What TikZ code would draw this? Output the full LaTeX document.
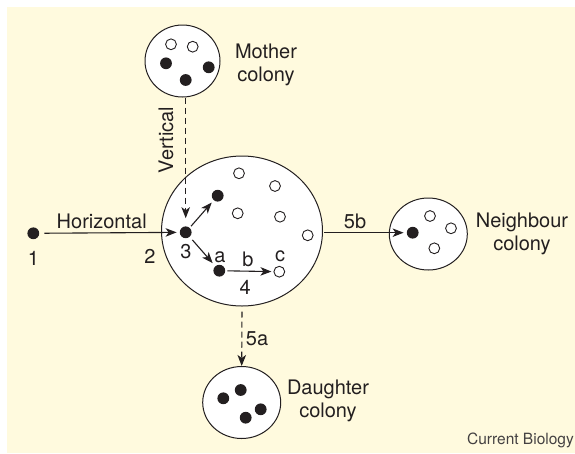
\documentclass[tikz,border=0pt]{standalone}
\usepackage{fontspec}
\setmainfont{TeX Gyre Heros}
\usepackage{tikz}
\usetikzlibrary{positioning,arrows.meta,shapes.geometric,calc}
\usepackage{xcolor}
\definecolor{cream}{RGB}{255,250,222}
\definecolor{ink}{RGB}{35,31,32}

\begin{document}
\begin{tikzpicture}[x=1pt, y=-1pt, >={Stealth[length=11pt,width=8.5pt,inset=3pt]},
    colony/.style={ellipse, draw=ink, line width=1pt, fill=white, inner sep=0pt},
    fulldot/.style={circle, fill=ink, inner sep=0pt, minimum size=11.8pt},
    opendot/.style={circle, draw=ink, line width=0.9pt, fill=white, inner sep=0pt, minimum size=10.8pt},
    flow/.style={->, draw=ink, line width=1.1pt},
    lbl/.style={inner sep=0pt, text=ink, font=\fontsize{20}{23}\selectfont, align=center}]

    % --- BACKGROUND ---
    \useasboundingbox (0,0) rectangle (575,453);
    \fill[white] (0,0) rectangle (575,453);
    \fill[cream] (7,7) rectangle (575,453);

    % --- COLONIES ---
    \node[colony, minimum width=161pt, minimum height=150pt] (main) at (242,231) {};
    \node[colony, minimum width=75pt, minimum height=72pt] (mother) at (182.5,61) {};
    \node[colony, minimum width=78pt, minimum height=72pt] (neighbour) at (428.3,234) {};
    \node[colony, minimum width=78pt, minimum height=72pt] (daughter) at (241.7,402.5) {};

    % Mother colony
    \foreach \x/\y [count=\i] in {171/44.3, 192.7/46.7}
        \node[opendot] (mo\i) at (\x,\y) {};
    \foreach \x/\y [count=\i] in {166/63.3, 208.7/67.3, 185.7/80}
        \node[fulldot] (mf\i) at (\x,\y) {};

    % Main colony
    \node[fulldot] (d3) at (185.7,232.3) {};
    \node[fulldot] (dup) at (217.7,195.7) {};
    \node[fulldot] (da) at (219.3,270.7) {};
    \node[opendot] (dc) at (279.3,271.7) {};
    \foreach \x/\y [count=\i] in {239/173.3, 275/186, 237.7/213.3, 280/216.7, 307.7/235.3}
        \node[opendot] (co\i) at (\x,\y) {};

    % Neighbour colony
    \node[fulldot] (dn) at (412.7,232.7) {};
    \foreach \x/\y [count=\i] in {430/216, 451/228.3, 434.3/248.3}
        \node[opendot] (no\i) at (\x,\y) {};

    % Daughter colony
    \foreach \x/\y [count=\i] in {240.7/390, 223.3/398.3, 260.7/409.3, 245.7/417.7}
        \node[fulldot] (df\i) at (\x,\y) {};

    % Founding cell
    \node[fulldot] (d1) at (33.3,233.3) {};

    % --- TRANSMISSION ---
    \draw[flow, shorten <=5pt, shorten >=3pt] (d1) -- (d3);
    \draw[flow, dash pattern=on 6pt off 4pt, shorten >=8pt] (d3 |- mother.south) -- (d3);
    \draw[flow, shorten <=2pt, shorten >=3pt] (d3) -- (dup);
    \draw[flow, shorten <=4pt, shorten >=4pt] (d3) -- (da);
    \draw[flow, shorten <=2pt, shorten >=2pt] (da) -- (dc);
    \draw[flow, shorten <=1pt, shorten >=3pt] (main.east |- dn) -- (dn);
    \draw[flow, dash pattern=on 6pt off 4pt, shorten <=5pt] (main.south) -- (daughter.north);

    % --- LABELS ---
    \node[lbl] (tHor) at (101.7,221.7) {Horizontal};
    \node[lbl, rotate=90] (tVer) at (166,140) {Vertical};
    \node[lbl] (t1) at (33.5,258) {1};
    \node[lbl] (t2) at (150,256) {2};
    \node[lbl] (t3) at (186,252) {3};
    \node[lbl] (ta) at (220,257) {a};
    \node[lbl] (tb) at (248,259) {b};
    \node[lbl] (tc) at (280,256) {c};
    \node[lbl] (t4) at (245.3,287) {4};
    \node[lbl] (t5b) at (355,221.7) {5b};
    \node[lbl] (t5a) at (257,339) {5a};

    \node[lbl] (tMother) at (266,64.5) {Mother\\colony};
    \node[lbl] (tNeighbour) at (522,234) {Neighbour\\colony};
    \node[lbl] (tDaughter) at (328,400.5) {Daughter\\colony};

    \node[inner sep=0pt, anchor=east, text=ink!85, font=\fontsize{15.5}{18}\selectfont] (credit) at (574,440) {Current Biology};

\end{tikzpicture}
\end{document}
